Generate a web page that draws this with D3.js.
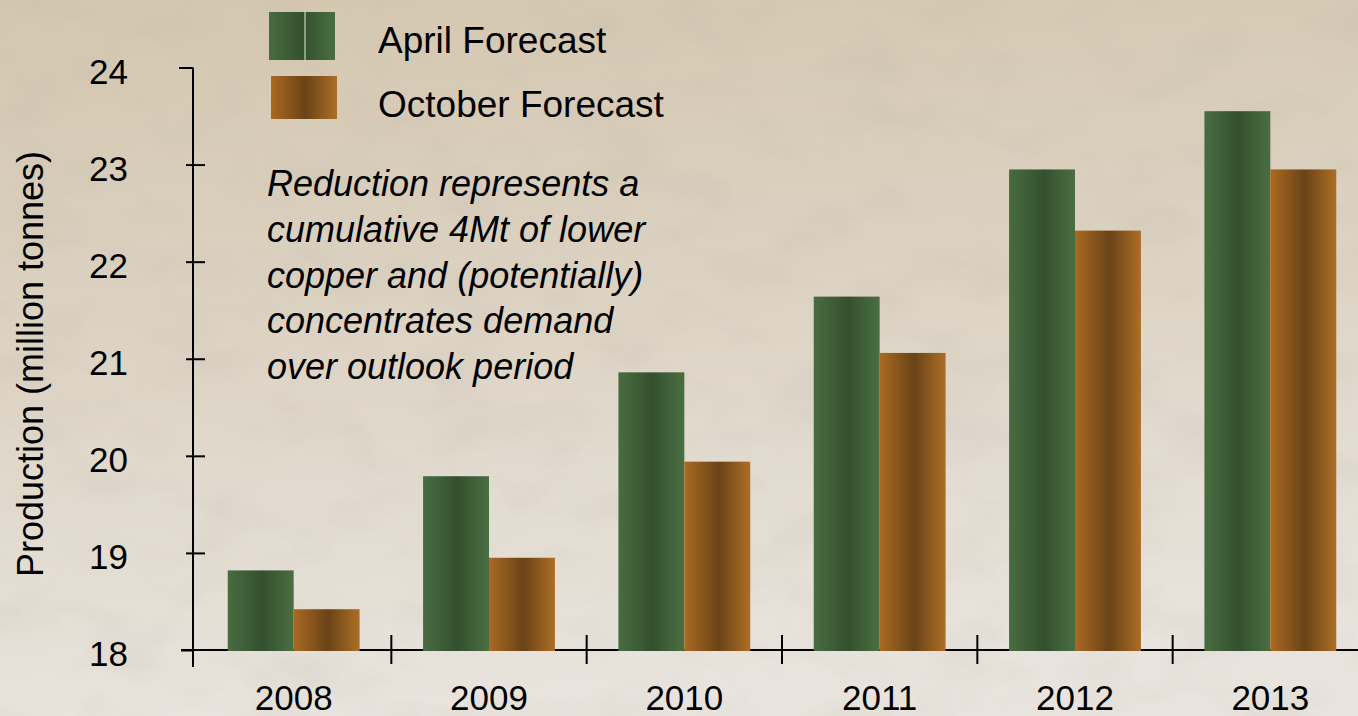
<!DOCTYPE html>
<html>
<head>
<meta charset="utf-8">
<script src="https://cdn.jsdelivr.net/npm/d3@7"></script>
<style>
  html, body { margin: 0; padding: 0; overflow: hidden; }
  svg { display: block; font-family: "Liberation Sans", Arial, sans-serif; }
</style>
</head>
<body>
<svg id="chart" width="1358" height="716"></svg>
<script>
// 数据
const years = ["2008", "2009", "2010", "2011", "2012", "2013"];
const aprilForecast = [18.82, 19.79, 20.86, 21.64, 22.95, 23.55];
const octoberForecast = [18.42, 18.95, 19.94, 21.06, 22.32, 22.95];
const seriesNames = ["April Forecast", "October Forecast"];
const yTicks = [18, 19, 20, 21, 22, 23, 24];
const note = [
    "Reduction represents a",
    "cumulative 4Mt of lower",
    "copper and (potentially)",
    "concentrates demand",
    "over outlook period"
];

const W = 1358, H = 716;
const svg = d3.select("#chart");
const defs = svg.append("defs");

// 背景渐变 + 纹理
const bg = defs.append("linearGradient").attr("id", "bg").attr("x1", 0).attr("y1", 0).attr("x2", 0.15).attr("y2", 1);
bg.append("stop").attr("offset", "0%").attr("stop-color", "#d4c7b0");
bg.append("stop").attr("offset", "45%").attr("stop-color", "#dcd2c2");
bg.append("stop").attr("offset", "100%").attr("stop-color", "#e8e4dd");

const tex = defs.append("filter").attr("id", "tex").attr("x", 0).attr("y", 0).attr("width", "100%").attr("height", "100%");
tex.append("feTurbulence").attr("type", "fractalNoise").attr("baseFrequency", "0.012 0.02").attr("numOctaves", 4).attr("seed", 7);
tex.append("feColorMatrix").attr("type", "matrix")
    .attr("values", "0 0 0 0 0.45  0 0 0 0 0.40  0 0 0 0 0.35  1.1 0 0 0 -0.5");

svg.append("rect").attr("width", W).attr("height", H).attr("fill", "url(#bg)");
svg.append("rect").attr("width", W).attr("height", H).attr("filter", "url(#tex)").attr("opacity", 0.3);

// 柱子渐变
function barGradient(id, edgeL, mid, edgeR) {
    const g = defs.append("linearGradient").attr("id", id).attr("x1", 0).attr("x2", 1).attr("y1", 0).attr("y2", 0);
    g.append("stop").attr("offset", "0%").attr("stop-color", edgeL);
    g.append("stop").attr("offset", "52%").attr("stop-color", mid);
    g.append("stop").attr("offset", "100%").attr("stop-color", edgeR);
}
barGradient("green", "#486c41", "#34502f", "#4a6f42");
barGradient("orange", "#aa6a22", "#6a4318", "#ad6e25");
const fills = ["url(#green)", "url(#orange)"];

// 比例尺
const x = d3.scaleBand().domain(years).range([196, 1368]).paddingInner(0.325).paddingOuter(0.1625);
const xSub = d3.scaleBand().domain(seriesNames).range([0, x.bandwidth()]);
const y = d3.scaleLinear().domain([18, 24]).range([650, 67.5]);
const fontFam = "'Liberation Sans', Arial, sans-serif";

// Y轴
const yAxis = svg.append("g")
    .attr("transform", "translate(193,0)")
    .call(d3.axisLeft(y).tickValues(yTicks).tickFormat(d3.format("d")).tickSizeInner(7).tickSizeOuter(0));
yAxis.select(".domain").remove();
yAxis.selectAll(".tick line")
    .attr("stroke", "#000").attr("stroke-width", 2)
    .attr("x1", d => d === 24 || d === 18 ? 0 : 12)
    .attr("x2", d => d === 24 ? -14 : d === 18 ? -12 : -7);
yAxis.selectAll(".tick text")
    .attr("x", -65).attr("dy", "0.45em")
    .attr("fill", "#000").style("font-size", "35px").style("font-family", fontFam);
yAxis.append("line").attr("x1", 0).attr("x2", 0).attr("y1", y(24)).attr("y2", 667)
    .attr("stroke", "#000").attr("stroke-width", 2);

// X轴
svg.append("line").attr("x1", 181).attr("x2", W).attr("y1", y(18)).attr("y2", y(18))
    .attr("stroke", "#000").attr("stroke-width", 2);
const boundaries = years.slice(0, -1).map(d => x(d) + x.bandwidth() + (x.step() - x.bandwidth()) / 2);
svg.selectAll(".xtick").data(boundaries).enter().append("line")
    .attr("class", "xtick")
    .attr("x1", d => d).attr("x2", d => d)
    .attr("y1", y(18) - 15).attr("y2", y(18) + 14)
    .attr("stroke", "#000").attr("stroke-width", 2);

const xAxis = svg.append("g")
    .attr("transform", `translate(0,${y(18)})`)
    .call(d3.axisBottom(x).tickSize(0).tickPadding(35));
xAxis.select(".domain").remove();
xAxis.selectAll(".tick text")
    .attr("fill", "#000").style("font-size", "35px").style("font-family", fontFam);

// 柱子
const rows = years.map((yr, i) => ({ year: yr, values: [aprilForecast[i], octoberForecast[i]] }));
const groups = svg.selectAll(".grp").data(rows).enter().append("g")
    .attr("class", "grp")
    .attr("transform", d => `translate(${x(d.year)},0)`);
groups.selectAll("rect")
    .data(d => d.values.map((v, k) => ({ key: seriesNames[k], v, k })))
    .enter().append("rect")
    .attr("x", d => xSub(d.key))
    .attr("width", xSub.bandwidth())
    .attr("y", d => y(d.v))
    .attr("height", d => y(18) + 1 - y(d.v))
    .attr("fill", d => fills[d.k]);

// 图例
const legend = svg.append("g");
const legendRows = [
    { name: seriesNames[0], fill: fills[0], x: 269, y: 12, h: 48, tx: 378, ty: 53 },
    { name: seriesNames[1], fill: fills[1], x: 271, y: 76, h: 43, tx: 378, ty: 117 }
];
legendRows.forEach((r, i) => {
    legend.append("rect").attr("x", r.x).attr("y", r.y).attr("width", 66).attr("height", r.h).attr("fill", r.fill);
    if (i === 0) {
        legend.append("line").attr("x1", r.x + 36).attr("x2", r.x + 36).attr("y1", r.y).attr("y2", r.y + r.h)
            .attr("stroke", "#c9d6c0").attr("stroke-width", 1.2);
    }
    legend.append("text").attr("x", r.tx).attr("y", r.ty).text(r.name)
        .attr("fill", "#000").style("font-size", "37px");
});

// 注释文字
svg.append("g").selectAll("text").data(note).enter().append("text")
    .attr("x", 267)
    .attr("y", (d, i) => 196 + i * 45.8)
    .text(d => d)
    .attr("fill", "#000")
    .style("font-size", "36px")
    .style("font-style", "italic");

// Y轴标题
svg.append("text")
    .attr("transform", "translate(43,364) rotate(-90)")
    .attr("text-anchor", "middle")
    .attr("fill", "#000")
    .style("font-size", "36px")
    .text("Production (million tonnes)");
</script>
</body>
</html>
